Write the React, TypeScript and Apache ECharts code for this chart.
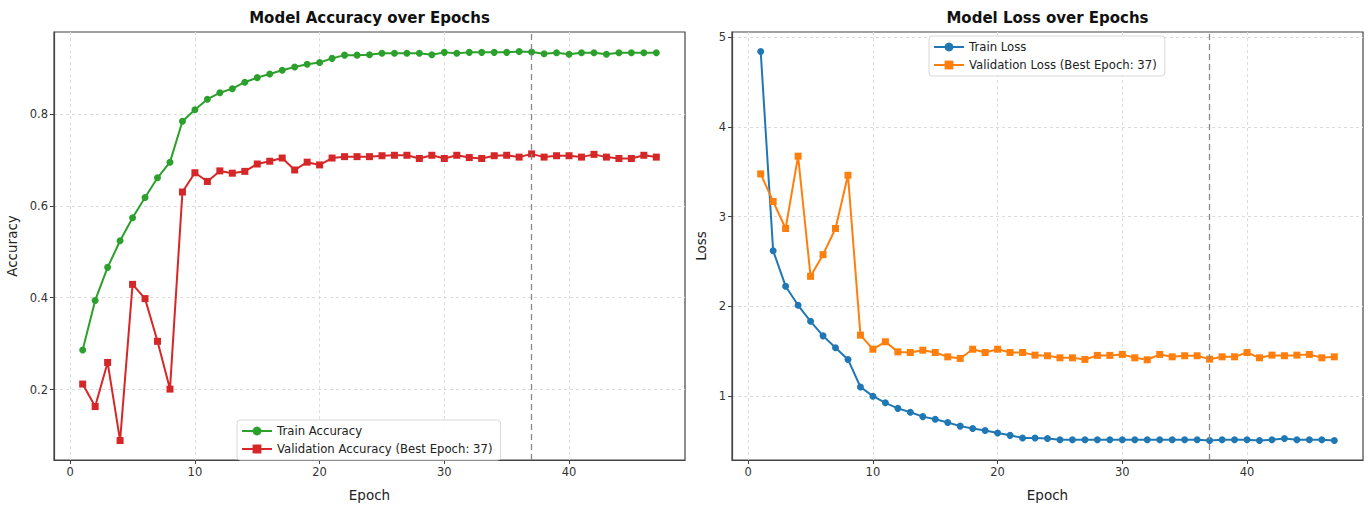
import React, { useEffect, useRef } from "react";
import * as echarts from "echarts";

const epochs: number[] = Array.from({ length: 47 }, (_, i) => i + 1);

const trainAcc: number[] = [
  0.286, 0.394, 0.466, 0.524, 0.574, 0.618, 0.661, 0.695, 0.784, 0.809,
  0.832, 0.846, 0.855, 0.869, 0.879, 0.887, 0.895, 0.902, 0.908, 0.912,
  0.921, 0.928, 0.928, 0.929, 0.932, 0.932, 0.932, 0.932, 0.929, 0.934,
  0.932, 0.934, 0.934, 0.934, 0.934, 0.936, 0.935, 0.931, 0.933, 0.930,
  0.933, 0.933, 0.930, 0.933, 0.933, 0.933, 0.933,
];
const valAcc: number[] = [
  0.212, 0.163, 0.259, 0.089, 0.429, 0.398, 0.305, 0.201, 0.630, 0.672,
  0.653, 0.676, 0.671, 0.675, 0.691, 0.697, 0.704, 0.678, 0.695, 0.689,
  0.704, 0.707, 0.707, 0.707, 0.709, 0.710, 0.710, 0.703, 0.710, 0.703,
  0.710, 0.705, 0.703, 0.709, 0.710, 0.706, 0.713, 0.706, 0.709, 0.709,
  0.706, 0.712, 0.706, 0.703, 0.703, 0.710, 0.706,
];
const trainLoss: number[] = [
  4.843, 2.62, 2.224, 2.011, 1.832, 1.67, 1.538, 1.407, 1.099, 0.997,
  0.923, 0.861, 0.818, 0.769, 0.74, 0.703, 0.663, 0.637, 0.615, 0.586,
  0.56, 0.531, 0.531, 0.524, 0.51, 0.51, 0.51, 0.51, 0.51, 0.51,
  0.51, 0.51, 0.51, 0.51, 0.51, 0.51, 0.502, 0.51, 0.51, 0.51,
  0.502, 0.51, 0.524, 0.51, 0.51, 0.51, 0.502,
];
const valLoss: number[] = [
  3.477, 3.169, 2.868, 3.675, 2.334, 2.576, 2.868, 3.462, 1.678, 1.521,
  1.604, 1.491, 1.484, 1.51, 1.484, 1.436, 1.418, 1.521, 1.484, 1.521,
  1.484, 1.484, 1.455, 1.448, 1.425, 1.425, 1.407, 1.452, 1.452, 1.463,
  1.425, 1.403, 1.463, 1.436, 1.448, 1.448, 1.41, 1.436, 1.436, 1.484,
  1.425, 1.455, 1.448, 1.455, 1.463, 1.425, 1.436,
];

const BEST_EPOCH = 37;
const xTicks: number[] = [0, 10, 20, 30, 40];
const accTicks: number[] = [0.2, 0.4, 0.6, 0.8];
const lossTicks: number[] = [1, 2, 3, 4, 5];

const titles: string[] = ["Model Accuracy over Epochs", "Model Loss over Epochs"];
const names = {
  trainAcc: "Train Accuracy",
  valAcc: `Validation Accuracy (Best Epoch: ${BEST_EPOCH})`,
  trainLoss: "Train Loss",
  valLoss: `Validation Loss (Best Epoch: ${BEST_EPOCH})`,
};

const FONT = "DejaVu Sans, sans-serif";

function pad(min: number, max: number) {
  const r = max - min;
  return { min: min - 0.05 * r, max: max + 0.05 * r };
}

export default function App() {
  const ref = useRef<HTMLDivElement>(null);

  useEffect(() => {
    if (!ref.current) return;
    const chart = echarts.init(ref.current, undefined, { renderer: "svg" });

    const xr = pad(Math.min(...epochs), Math.max(...epochs));
    const accR = pad(Math.min(...trainAcc, ...valAcc), Math.max(...trainAcc, ...valAcc));
    const lossR = pad(Math.min(...trainLoss, ...valLoss), Math.max(...trainLoss, ...valLoss));

    const frame = "#444";
    const gridLine = { show: true, lineStyle: { color: "#dcdcdc", type: [3, 3] as any, width: 1 } };
    const mkX = (gi: number) => ({
      type: "value",
      gridIndex: gi,
      min: xr.min,
      max: xr.max,
      name: "Epoch",
      nameLocation: "middle",
      nameGap: 28,
      nameTextStyle: { fontFamily: FONT, fontSize: 13.5, color: "#222" },
      axisLine: { show: true, onZero: false, lineStyle: { color: frame, width: 1.2 } },
      axisTick: { show: true, customValues: xTicks, length: 4, lineStyle: { color: frame } },
      axisLabel: {
        customValues: xTicks,
        fontFamily: FONT,
        fontSize: 11.5,
        color: "#333",
        margin: 6,
        formatter: (v: number) => String(v),
      },
      splitLine: gridLine,
    });
    const mkY = (gi: number, r: { min: number; max: number }, ticks: number[], name: string, gap: number, dec: number) => ({
      type: "value",
      gridIndex: gi,
      min: r.min,
      max: r.max,
      name,
      nameLocation: "middle",
      nameGap: gap,
      nameTextStyle: { fontFamily: FONT, fontSize: 13.5, color: "#222" },
      axisLine: { show: true, onZero: false, lineStyle: { color: frame, width: 1.2 } },
      axisTick: { show: true, customValues: ticks, length: 4, lineStyle: { color: frame } },
      axisLabel: {
        customValues: ticks,
        fontFamily: FONT,
        fontSize: 11.5,
        color: "#333",
        margin: 6,
        formatter: (v: number) => v.toFixed(dec),
      },
      splitLine: gridLine,
    });

    const line = (name: string, data: number[], color: string, symbol: string, xi: number, withMark: boolean) => ({
      type: "line",
      name,
      xAxisIndex: xi,
      yAxisIndex: xi,
      data: epochs.map((e, i) => [e, data[i]]),
      symbol,
      symbolSize: 7,
      showSymbol: true,
      lineStyle: { color, width: 2 },
      itemStyle: { color },
      z: 3,
      markLine: withMark
        ? {
            silent: true,
            symbol: "none",
            label: { show: false },
            lineStyle: { color: "#888", type: [6, 4] as any, width: 1.3 },
            data: [{ xAxis: BEST_EPOCH }],
          }
        : undefined,
    });

    const legendBase = {
      orient: "vertical",
      backgroundColor: "rgba(255,255,255,0.85)",
      borderColor: "#d8d8d8",
      borderWidth: 1,
      borderRadius: 3,
      padding: [5, 8, 5, 4],
      itemGap: 6,
      itemWidth: 30,
      itemHeight: 11,
      textStyle: { fontFamily: FONT, fontSize: 11.7, color: "#222" },
    };

    chart.setOption({
      animation: false,
      backgroundColor: "#fff",
      grid: [
        { left: 54, top: 32, width: 631, height: 434, show: true, borderColor: frame, borderWidth: 1.2, backgroundColor: "transparent" },
        { left: 732, top: 32, width: 631, height: 434, show: true, borderColor: frame, borderWidth: 1.2, backgroundColor: "transparent" },
      ],
      xAxis: [mkX(0), mkX(1)],
      yAxis: [
        mkY(0, accR, accTicks, "Accuracy", 35, 1),
        mkY(1, lossR, lossTicks, "Loss", 24, 0),
      ],
      legend: [
        { ...legendBase, left: 237, top: 420, data: [names.trainAcc, names.valAcc] },
        { ...legendBase, left: 929, top: 36, data: [names.trainLoss, names.valLoss] },
      ],
      graphic: [
        {
          type: "text",
          x: 369.5,
          y: 18,
          style: { text: titles[0], font: `bold 15px ${FONT}`, fill: "#111", textAlign: "center", textVerticalAlign: "middle" },
        },
        {
          type: "text",
          x: 1047.5,
          y: 18,
          style: { text: titles[1], font: `bold 15px ${FONT}`, fill: "#111", textAlign: "center", textVerticalAlign: "middle" },
        },
      ],
      series: [
        line(names.trainAcc, trainAcc, "#2ca02c", "circle", 0, true),
        line(names.valAcc, valAcc, "#d62728", "rect", 0, false),
        line(names.trainLoss, trainLoss, "#1f77b4", "circle", 1, true),
        line(names.valLoss, valLoss, "#ff7f0e", "rect", 1, false),
      ],
    });

    return () => chart.dispose();
  }, []);

  return (
    <div
      ref={ref}
      style={{ position: "fixed", left: 0, top: 0, width: 1370, height: 507, background: "#fff" }}
    />
  );
}
